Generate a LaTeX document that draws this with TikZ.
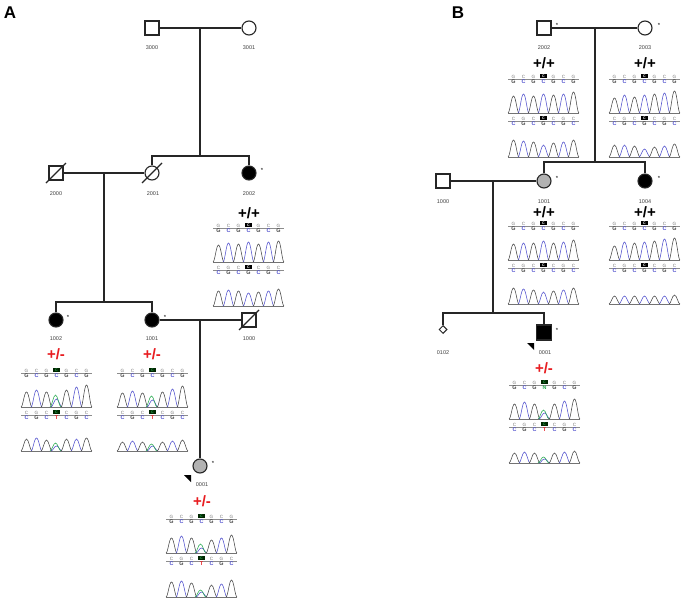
\documentclass[tikz,border=0pt]{standalone}
\usepackage{fontspec}
\setmainfont{Liberation Sans}
\usetikzlibrary{shapes.geometric,calc}
\definecolor{pkblue}{RGB}{80,80,205}
\definecolor{pkgray}{RGB}{70,70,70}
\definecolor{pkgreen}{RGB}{40,170,80}
\definecolor{mred}{RGB}{232,28,32}
\tikzset{
  rel/.style={line width=1.3pt, draw=black!85},
  sym/.style={draw=black!85, line width=1.1pt, minimum size=14pt, inner sep=0pt, fill=white},
  male/.style={sym, rectangle},
  female/.style={sym, circle},
  slashln/.style={line width=1.1pt, draw=black!85},
  idl/.style={font=\fontsize{5.5}{6}\selectfont, text=black!75, inner sep=0pt},
  ast/.style={font=\fontsize{6}{6}\selectfont, inner sep=0pt},
  gtw/.style={font=\fontsize{15}{15}\selectfont\bfseries, inner sep=0pt},
  gtm/.style={gtw, text=mred},
  panel/.style={font=\fontsize{17}{17}\selectfont\bfseries, inner sep=0pt},
  seqln/.style={draw=black!45, line width=0.6pt},
  baseln/.style={draw=black!55, line width=0.5pt},
  seqtop/.style={font=\fontsize{4.6}{4.6}\selectfont, text=black!55, inner sep=0pt},
  seqbot/.style={font=\fontsize{5.4}{5.4}\selectfont\bfseries, inner sep=0pt},
  boxtxt/.style={font=\fontsize{3.6}{3.6}\selectfont\bfseries, inner sep=0pt},
}
\newcommand\pk[4]{%
  \draw[color=#4, line width=0.55pt] (#1-5.5,#2) .. controls (#1-3.6,#2) and (#1-2.3,#2-#3) .. (#1,#2-#3) .. controls (#1+2.3,#2-#3) and (#1+3.6,#2) .. (#1+5.5,#2);}
\newcommand\trace[3]{%
  \draw[baseln] (#1,#2) -- (#1+71,#2);
  \foreach \h [count=\i] in {#3} {%
    \pgfmathsetmacro\cx{#1+10*\i-4.5}%
    \ifodd\i\relax\def\pc{pkgray}\else\def\pc{pkblue}\fi
    \pk{\cx}{#2}{\h}{\pc}%
  }}
\newcommand\seqrow[5]{%
  \draw[seqln] (#1,#2) -- (#1+71,#2);
  \foreach \c/\l [count=\i] in {#3} {%
    \pgfmathsetmacro\cx{#1+10*\i-4.5}%
    \node[seqtop] at (\cx,#2-2.3) {\l};
    \node[seqbot, text=\c] at (\cx,#2+2.6) {\l};
  }%
  \fill[#4] (#1+32.3,#2-5.4) rectangle (#1+38.7,#2-0.6);
  \node[boxtxt, text=#5] at (#1+35.5,#2-3) {C};}
\newcommand\wt[4]{%
  \seqrow{#1}{#2}{pkgray/G,pkblue/C,pkgray/G,pkblue/C,pkgray/G,pkblue/C,pkgray/G}{black}{white}
  \trace{#1}{#2+34}{#3}
  \seqrow{#1}{#2+42}{pkblue/C,pkgray/G,pkblue/C,pkgray/G,pkblue/C,pkgray/G,pkblue/C}{black}{white}
  \trace{#1}{#2+78}{#4}}
\newcommand\het[7]{%
  \seqrow{#1}{#2}{pkgray/G,pkblue/C,pkgray/G,#7,pkgray/G,pkblue/C,pkgray/G}{black!85!green}{pkgreen}
  \trace{#1}{#2+34}{#3}
  \pk{#1+34.5}{#2+34}{#5}{pkgreen}
  \seqrow{#1}{#2+42}{pkblue/C,pkgray/G,pkblue/C,mred/T,pkblue/C,pkgray/G,pkblue/C}{black!85!green}{pkgreen}
  \trace{#1}{#2+78}{#4}
  \pk{#1+34.5}{#2+78}{#6}{pkgreen}}
\begin{document}
\begin{tikzpicture}[x=1pt,y=-1pt]
\fill[white] (0,0) rectangle (683,602);
\useasboundingbox (0,0) rectangle (683,602);

% ---------------- Panel A ----------------
\node[panel] (pA) at (10,13) {A};
\node[male] (a3000) at (152,28) {};
\node[female] (a3001) at (249,28) {};
\node[male] (a2000) at (56,173) {};
\node[female] (a2001) at (152,173) {};
\node[female, fill=black] (a2002) at (249,173) {};
\node[female, fill=black] (a1002) at (56,320) {};
\node[female, fill=black] (a1001) at (152,320) {};
\node[male] (a1000) at (249,320) {};
\node[female, fill=black!30] (a0001) at (200,466) {};

\coordinate (am1) at (200,28);
\coordinate (as1) at (200,156);
\coordinate (am2) at (104,173);
\coordinate (as2) at (104,302);
\coordinate (am3) at (200,320);

\draw[rel] (a3000) -- (a3001);
\draw[rel] (am1) -- (as1);
\draw[rel] (a2001.north) -- (a2001.north |- as1) -- (a2002.north |- as1) -- (a2002.north);
\draw[rel] (a2000) -- (a2001);
\draw[rel] (am2) -- (as2);
\draw[rel] (a1002.north) -- (a1002.north |- as2) -- (a1001.north |- as2) -- (a1001.north);
\draw[rel] (a1001) -- (a1000);
\draw[rel] (am3) -- (a0001.north);

\draw[slashln] ($(a2000)+(-10,10)$) -- ($(a2000)+(10,-10)$);
\draw[slashln] ($(a2001)+(-10,10)$) -- ($(a2001)+(10,-10)$);
\draw[slashln] ($(a1000)+(-10,10)$) -- ($(a1000)+(10,-10)$);

\node[ast] (a2002s) at (262,170) {*};
\node[ast] (a1002s) at (68,317) {*};
\node[ast] (a1001s) at (165,317) {*};
\node[ast] (a0001s) at (213,463) {*};

\fill[black] (184,475) -- (191,475) -- (191,482) -- cycle;

\node[idl] (a3000l) at (152,48) {3000};
\node[idl] (a3001l) at (249,48) {3001};
\node[idl] (a2000l) at (56,194) {2000};
\node[idl] (a2001l) at (153,194) {2001};
\node[idl] (a2002l) at (249,194) {2002};
\node[idl] (a1002l) at (56,339) {1002};
\node[idl] (a1001l) at (152,339) {1001};
\node[idl] (a1000l) at (249,339) {1000};
\node[idl] (a0001l) at (202,485) {0001};

\node[gtw] (a2002g) at (249,213) {+/+};
\node[gtm] (a1002g) at (56,354) {+/-};
\node[gtm] (a1001g) at (152,354) {+/-};
\node[gtm] (a0001g) at (202,501) {+/-};

\wt{213}{228}{17,19,18,20,18,20,21}{15,16,15,13,14,15,17}
\het{21}{373}{15,17,15,8,17,20,22}{12,13,11,5,12,12,13}{12}{8}{pkblue/C}
\het{117}{373}{14,16,14,7,15,18,21}{9,10,9,5,9,10,11}{11}{7}{pkblue/C}
\het{166}{519}{15,17,15,5,13,15,18}{15,16,14,5,12,13,17}{9}{7}{pkblue/C}

% ---------------- Panel B ----------------
\node[panel] (pB) at (458,13) {B};
\node[male] (b2002) at (544,28) {};
\node[female] (b2003) at (645,28) {};
\node[male] (b1000) at (443,181) {};
\node[female, fill=black!30] (b1001) at (544,181) {};
\node[female, fill=black] (b1004) at (645,181) {};
\node[diamond, draw=black!85, line width=1pt, fill=white, minimum width=8pt, minimum height=8pt, inner sep=0pt] (b0102) at (443,329.5) {};
\node[male, fill=black, minimum size=15pt] (b0001) at (544,332.5) {};

\coordinate (bm1) at (595,28);
\coordinate (bs1) at (595,162);
\coordinate (bm2) at (493,181);
\coordinate (bs2) at (493,313);

\draw[rel] (b2002) -- (b2003);
\draw[rel] (bm1) -- (bs1);
\draw[rel] (b1001.north) -- (b1001.north |- bs1) -- (b1004.north |- bs1) -- (b1004.north);
\draw[rel] (b1000) -- (b1001);
\draw[rel] (bm2) -- (bs2);
\draw[rel] (b0102.north) -- (b0102.north |- bs2) -- (b0001.north |- bs2) -- (b0001.north);

\node[ast] (b2002s) at (557,25) {*};
\node[ast] (b2003s) at (659,25) {*};
\node[ast] (b1001s) at (557,178) {*};
\node[ast] (b1004s) at (659,178) {*};
\node[ast] (b0001s) at (557,330) {*};

\fill[black] (527,343) -- (534,343) -- (534,350) -- cycle;

\node[idl] (b2002l) at (544,48) {2002};
\node[idl] (b2003l) at (645,48) {2003};
\node[idl] (b1000l) at (443,202) {1000};
\node[idl] (b1001l) at (544,202) {1001};
\node[idl] (b1004l) at (645,202) {1004};
\node[idl] (b0102l) at (443,353) {0102};
\node[idl] (b0001l) at (545,353) {0001};

\node[gtw] (b2002g) at (544,63) {+/+};
\node[gtw] (b2003g) at (645,63) {+/+};
\node[gtw] (b1001g) at (544,212) {+/+};
\node[gtw] (b1004g) at (645,212) {+/+};
\node[gtm] (b0001g) at (544,368) {+/-};

\wt{508}{79}{17,19,17,19,18,19,21}{17,16,15,12,14,15,17}
\wt{609}{79}{15,18,16,18,19,20,22}{12,12,11,8,10,11,13}
\wt{508}{226}{16,17,17,19,17,18,20}{16,15,14,12,13,14,16}
\wt{609}{226}{14,18,17,18,19,21,22}{8,8,8,8,8,8,9}
\het{509}{385}{15,17,15,6,15,18,20}{10,11,10,4,10,11,12}{9}{6}{pkgreen/N}
\end{tikzpicture}
\end{document}
